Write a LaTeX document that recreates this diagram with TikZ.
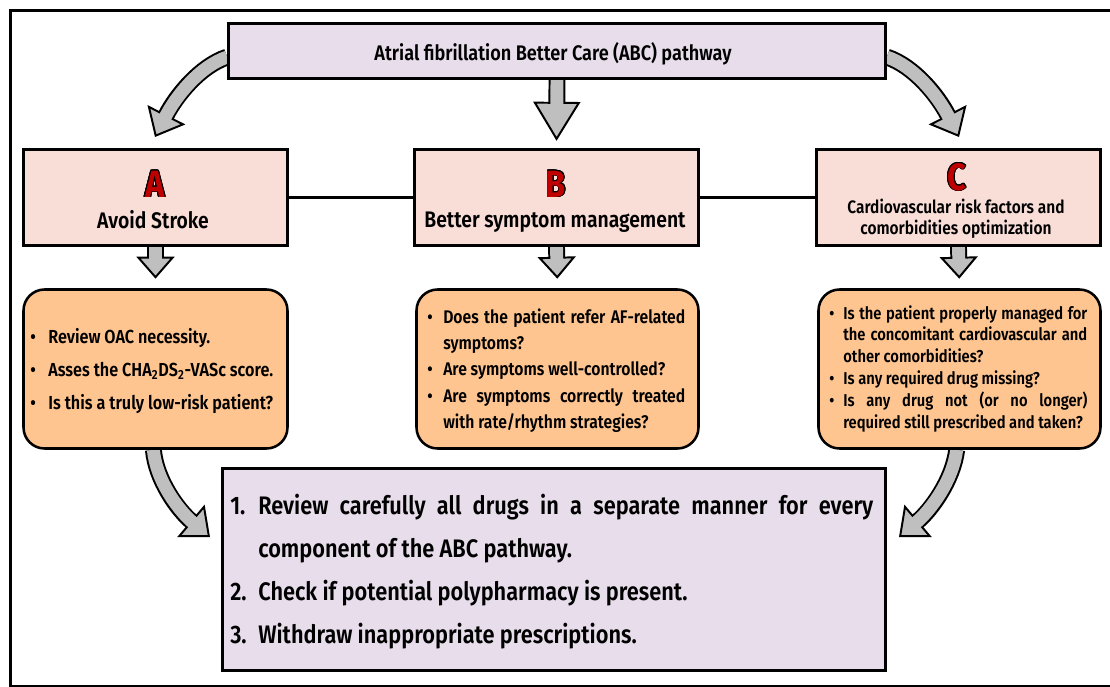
\documentclass[tikz,border=0pt]{standalone}
\usepackage{fontspec}
\setmainfont{Fira Sans}[UprightFont=* SemiBold, BoldFont=* Bold, FakeStretch=0.86]
\usepackage[copies]{contour}
\usetikzlibrary{arrows.meta, backgrounds}
\contourlength{0.6pt}

\definecolor{lilac}{HTML}{E8DDEB}
\definecolor{pinkbox}{HTML}{F9DDD7}
\definecolor{peach}{HTML}{FFC590}
\definecolor{arrowgray}{HTML}{BFBFBF}
\definecolor{letterred}{HTML}{C00000}

\newdimen\pxu \pxu=0.7113pt
\newdimen\bind

% list lines: bullet line, justified bullet line, continuation lines
\newcommand{\itemline}[1]{\noindent\makebox[\bind][l]{\textbullet}\mbox{#1}\par}
\newcommand{\itemfull}[1]{\noindent\makebox[\bind][l]{\textbullet}\makebox[\dimexpr\linewidth-\bind\relax][s]{#1}\par}
\newcommand{\contline}[1]{\noindent\hspace*{\bind}\mbox{#1}\par}
\newcommand{\contfull}[1]{\noindent\hspace*{\bind}\makebox[\dimexpr\linewidth-\bind\relax][s]{#1}\par}
\newcommand{\numline}[2]{\noindent\makebox[\bind][l]{#1}\mbox{#2}\par}
\newcommand{\numfull}[2]{\noindent\makebox[\bind][l]{#1}\makebox[\dimexpr\linewidth-\bind\relax][s]{#2}\par}

\tikzset{
  titlebox/.style={draw, line width=1.8pt, fill=lilac, minimum width=657\pxu, minimum height=55\pxu, inner sep=0pt},
  abcbox/.style={draw, line width=1.8pt, fill=pinkbox, minimum height=96\pxu, inner sep=0pt},
  listbox/.style={draw, line width=1.8pt, fill=peach, rounded corners=15pt, minimum width=282\pxu, minimum height=159\pxu, inner sep=0pt},
  finalbox/.style={draw, line width=1.8pt, fill=lilac, minimum width=663\pxu, minimum height=202\pxu, inner sep=0pt},
  letter/.style={font=\fontsize{27}{27}\selectfont\bfseries, text=letterred, anchor=base, inner sep=0pt},
  label/.style={font=\fontsize{16}{18}\selectfont, anchor=base, inner sep=0pt},
  txt/.style={anchor=base west, inner sep=0pt},
  blockout/.style={draw=black, line width=12pt},
  blockin/.style={draw=arrowgray, line width=9.2pt},
  smalltip/.style={-{Triangle[width=27pt,length=15.6pt,fill=arrowgray,line width=1.4pt]}},
  bigtip/.style={-{Triangle[width=33.4pt,length=27.7pt,fill=arrowgray,line width=1.4pt]}},
  curvetip/.style={-{Triangle[width=30pt,length=17.8pt,fill=arrowgray,line width=1.4pt]}},
}

\begin{document}
\begin{tikzpicture}[x=0.7113pt, y=-0.7113pt]
    \useasboundingbox (0,0) rectangle (1110,687);
    \draw[line width=2pt] (10.5,10.5) rectangle (1114,686);

    % Title
    \node[titlebox] (title) at (557,51) {};
    \node[txt, anchor=base, font=\fontsize{15}{16}\selectfont] (titletxt) at (553,60) {Atrial fibrillation Better Care (ABC) pathway};

    % A, B, C boxes
    \node[abcbox, minimum width=264\pxu] (boxA) at (155.5,197.5) {};
    \node[abcbox, minimum width=284\pxu] (boxB) at (556.5,197.5) {};
    \node[abcbox, minimum width=284\pxu] (boxC) at (958.5,197.5) {};
    \node[letter] (letA) at (155,197) {\contour{black}{A}};
    \node[letter] (letB) at (556,197) {\contour{black}{B}};
    \node[letter] (letC) at (957,190) {\contour{black}{C}};
    \node[label] (labA) at (153,228) {Avoid Stroke};
    \node[label] (labB) at (555,227) {Better symptom management};
    \node[label] (labC) at (956,213) {\parbox[t]{270\pxu}{\centering\fontsize{12.8}{15.6}\selectfont Cardiovascular risk factors and\\ comorbidities optimization}};
    \draw[line width=1.8pt] (boxA) -- (boxB);
    \draw[line width=1.8pt] (boxB) -- (boxC);

    % Question boxes
    \node[listbox, minimum width=264\pxu] (listA) at (155.5,369) {};
    \node[listbox] (listB) at (557.5,369) {};
    \node[listbox] (listC) at (959.5,369) {};
    \node[txt] (txtA) at (30,343) {\parbox[t]{255\pxu}{\fontsize{13.4}{23.5}\selectfont\setlength{\bind}{18\pxu}%
        \itemline{Review OAC necessity.}
        \itemline{Asses the CHA\textsubscript{2}DS\textsubscript{2}-VASc score.}
        \itemline{Is this a truly low-risk patient?}}};
    \node[txt] (txtB) at (427,323) {\parbox[t]{258\pxu}{\fontsize{13}{18.8}\selectfont\setlength{\bind}{16\pxu}%
        \itemfull{Does the patient refer AF-related}
        \contline{symptoms?}
        \itemline{Are symptoms well-controlled?}
        \itemfull{Are symptoms correctly treated}
        \contline{with rate/rhythm strategies?}}};
    \node[txt] (txtC) at (829,319) {\parbox[t]{258\pxu}{\fontsize{12.2}{15.6}\selectfont\setlength{\bind}{14\pxu}%
        \itemfull{Is the patient properly managed for}
        \contfull{the concomitant cardiovascular and}
        \contline{other comorbidities?}
        \itemline{Is any required drug missing?}
        \itemfull{Is any drug not (or no longer)}
        \contline{required still prescribed and taken?}}};

    % Final box
    \node[finalbox] (final) at (554,569.5) {};
    \node[txt] (txtF) at (230,514) {\parbox[t]{643\pxu}{\fontsize{18}{30.6}\selectfont\setlength{\bind}{28\pxu}%
        \numfull{1.}{Review carefully all drugs in a separate manner for every}
        \contline{component of the ABC pathway.}
        \numline{2.}{Check if potential polypharmacy is present.}
        \numline{3.}{Withdraw inappropriate prescriptions.}}};

    % Arrow tips
    \coordinate (tipA) at (155,137);
    \coordinate (tipC) at (959,137);
    \coordinate (tipL) at (210,537);
    \coordinate (tipR) at (899,537);

    % Block arrows
    \begin{scope}[on background layer]
        \draw[blockout, bigtip, shorten >=5.3pt] (title.south) -- (boxB.north);
        \draw[blockin, shorten >=31pt] (title.south) -- (boxB.north);
        \foreach \s in {A,B,C} {
            \draw[blockout, smalltip, shorten >=6.8pt] (box\s.south) -- (list\s.north);
            \draw[blockin, shorten >=20.4pt] (box\s.south) -- (list\s.north);
        }
        \draw[blockout, curvetip] ([yshift=-4.3pt]title.west) .. controls (200,66) and (176,96) .. (tipA);
        \draw[blockin, shorten >=15.8pt] ([yshift=-4.3pt]title.west) .. controls (200,66) and (176,96) .. (tipA);
        \draw[blockout, curvetip] ([yshift=-4.3pt]title.east) .. controls (914,66) and (938,96) .. (tipC);
        \draw[blockin, shorten >=15.8pt] ([yshift=-4.3pt]title.east) .. controls (914,66) and (938,96) .. (tipC);
        \draw[blockout, curvetip] ([xshift=-1.5pt]listA.south) .. controls (156,480) and (178,510) .. (tipL);
        \draw[blockin, shorten >=15.8pt] ([xshift=-1.5pt]listA.south) .. controls (156,480) and (178,510) .. (tipL);
        \draw[blockout, curvetip] ([xshift=-2pt]listC.south) .. controls (953,480) and (931,510) .. (tipR);
        \draw[blockin, shorten >=15.8pt] ([xshift=-2pt]listC.south) .. controls (953,480) and (931,510) .. (tipR);
    \end{scope}
\end{tikzpicture}
\end{document}
